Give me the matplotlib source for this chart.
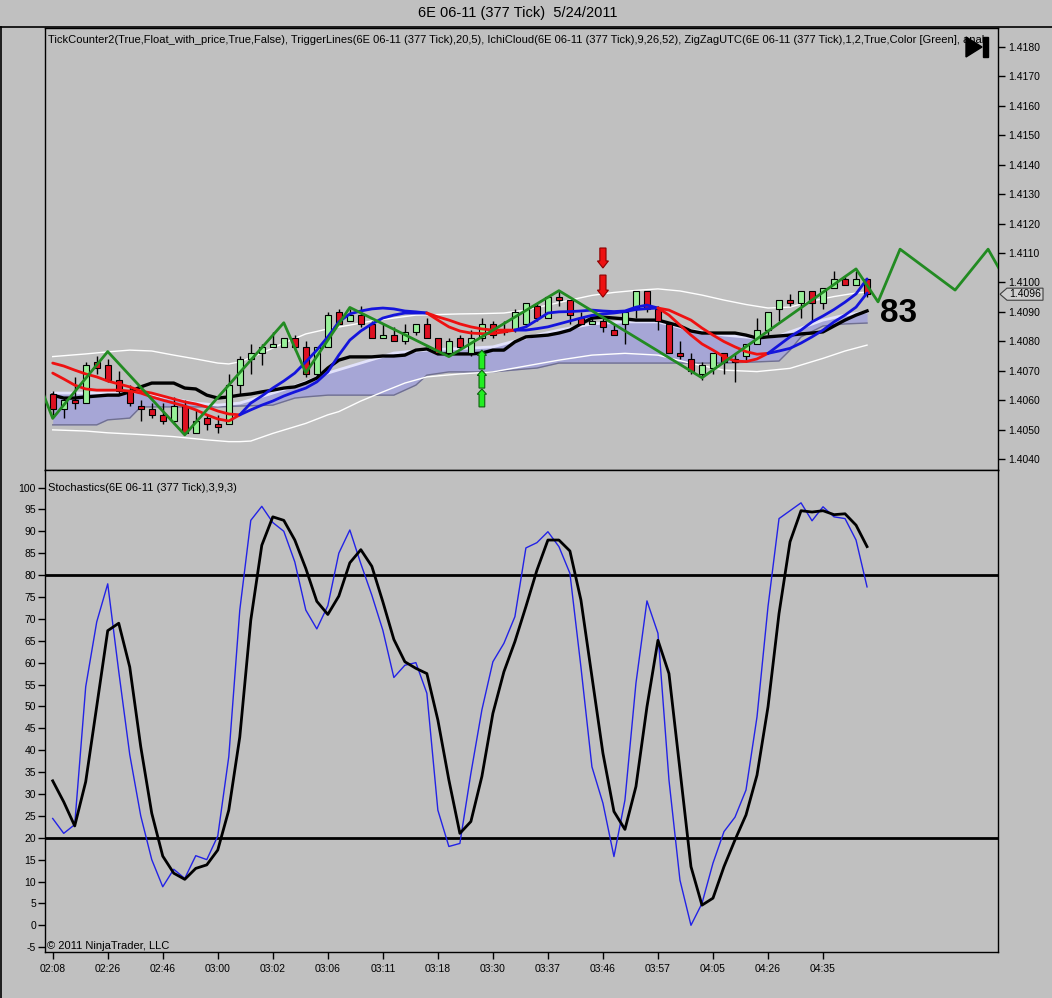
import matplotlib
matplotlib.use('Agg')
import matplotlib.pyplot as plt
from matplotlib.patches import Polygon, Rectangle
from matplotlib.lines import Line2D

plt.rcParams['font.family'] = ['Liberation Sans', 'DejaVu Sans']

# ---------------- data ----------------
title = '6E 06-11 (377 Tick)  5/24/2011'
header = ('TickCounter2(True,Float_with_price,True,False), TriggerLines(6E 06-11 (377 Tick),20,5), '
          'IchiCloud(6E 06-11 (377 Tick),9,26,52), ZigZagUTC(6E 06-11 (377 Tick),1,2,True,Color [Green], anal')
stoch_title = 'Stochastics(6E 06-11 (377 Tick),3,9,3)'
copyright_text = '\u00a9 2011 NinjaTrader, LLC'

time_labels = ['02:08', '02:26', '02:46', '03:00', '03:02', '03:06', '03:11', '03:18',
               '03:30', '03:37', '03:46', '03:57', '04:05', '04:26', '04:35']
time_tick_bars = [0, 5, 10, 15, 20, 25, 30, 35, 40, 45, 50, 55, 60, 65, 70]

price_ticks = [1.4040, 1.4050, 1.4060, 1.4070, 1.4080, 1.4090, 1.4100, 1.4110,
               1.4120, 1.4130, 1.4140, 1.4150, 1.4160, 1.4170, 1.4180]
stoch_ticks = [100, 95, 90, 85, 80, 75, 70, 65, 60, 55, 50, 45, 40, 35, 30, 25,
               20, 15, 10, 5, 0, -5]

opens = [1.4062, 1.4057, 1.4060, 1.4059, 1.4073, 1.4072, 1.4067, 1.4063, 1.4058, 1.4057,
         1.4055, 1.4053, 1.4058, 1.4049, 1.4054, 1.4052, 1.4052, 1.4065, 1.4074, 1.4076,
         1.4078, 1.4078, 1.4081, 1.4078, 1.4069, 1.4078, 1.4090, 1.4087, 1.4089, 1.4086,
         1.4081, 1.4082, 1.4080, 1.4083, 1.4086, 1.4081, 1.4076, 1.4081, 1.4076, 1.4081,
         1.4086, 1.4084, 1.4084, 1.4086, 1.4092, 1.4088, 1.4095, 1.4094, 1.4088, 1.4086,
         1.4087, 1.4084, 1.4086, 1.4091, 1.4097, 1.4091, 1.4086, 1.4076, 1.4074, 1.4069,
         1.4071, 1.4076, 1.4074, 1.4075, 1.4079, 1.4084, 1.4091, 1.4094, 1.4093, 1.4097,
         1.4093, 1.4098, 1.4101, 1.4099, 1.4101]
highs = [1.4063, 1.4061, 1.4068, 1.4073, 1.4075, 1.4074, 1.4070, 1.4065, 1.4060, 1.4059,
         1.4059, 1.4061, 1.4060, 1.4057, 1.4055, 1.4055, 1.4069, 1.4075, 1.4079, 1.4079,
         1.4083, 1.4081, 1.4082, 1.4080, 1.4078, 1.4090, 1.4091, 1.4091, 1.4092, 1.4087,
         1.4086, 1.4085, 1.4086, 1.4086, 1.4088, 1.4081, 1.4081, 1.4082, 1.4084, 1.4088,
         1.4087, 1.4087, 1.4091, 1.4093, 1.4093, 1.4095, 1.4097, 1.4094, 1.4090, 1.4088,
         1.4088, 1.4086, 1.4090, 1.4097, 1.4097, 1.4092, 1.4086, 1.4080, 1.4076, 1.4073,
         1.4076, 1.4076, 1.4076, 1.4079, 1.4088, 1.4090, 1.4094, 1.4096, 1.4097, 1.4097,
         1.4098, 1.4104, 1.4102, 1.4104, 1.4101]
lows = [1.4055, 1.4054, 1.4057, 1.4059, 1.4069, 1.4066, 1.4062, 1.4058, 1.4053, 1.4054,
        1.4052, 1.4052, 1.4049, 1.4049, 1.4050, 1.4049, 1.4052, 1.4062, 1.4069, 1.4072,
        1.4078, 1.4078, 1.4077, 1.4068, 1.4068, 1.4078, 1.4086, 1.4087, 1.4085, 1.4081,
        1.4081, 1.4080, 1.4079, 1.4082, 1.4081, 1.4076, 1.4075, 1.4077, 1.4075, 1.4080,
        1.4081, 1.4082, 1.4083, 1.4085, 1.4087, 1.4088, 1.4092, 1.4086, 1.4086, 1.4086,
        1.4083, 1.4082, 1.4079, 1.4088, 1.4090, 1.4084, 1.4076, 1.4074, 1.4069, 1.4067,
        1.4069, 1.4069, 1.4066, 1.4073, 1.4079, 1.4082, 1.4087, 1.4092, 1.4088, 1.4087,
        1.4091, 1.4098, 1.4099, 1.4099, 1.4095]
closes = [1.4057, 1.4060, 1.4059, 1.4072, 1.4071, 1.4067, 1.4063, 1.4059, 1.4057, 1.4055,
          1.4053, 1.4058, 1.4049, 1.4053, 1.4052, 1.4051, 1.4065, 1.4074, 1.4076, 1.4078,
          1.4079, 1.4081, 1.4078, 1.4069, 1.4078, 1.4089, 1.4086, 1.4089, 1.4086, 1.4081,
          1.4082, 1.4080, 1.4083, 1.4086, 1.4081, 1.4076, 1.4080, 1.4078, 1.4081, 1.4086,
          1.4082, 1.4083, 1.4090, 1.4093, 1.4088, 1.4095, 1.4094, 1.4089, 1.4086, 1.4087,
          1.4085, 1.4082, 1.4090, 1.4097, 1.4091, 1.4087, 1.4076, 1.4075, 1.4070, 1.4072,
          1.4076, 1.4073, 1.4073, 1.4079, 1.4084, 1.4090, 1.4094, 1.4093, 1.4097, 1.4093,
          1.4098, 1.4101, 1.4099, 1.4101, 1.4096]

# Kijun-like black line
base_line = [1.40617, 1.40607, 1.40607, 1.40611, 1.40614, 1.40617, 1.40617, 1.40628, 1.40645, 1.40658,
             1.40658, 1.40658, 1.40641, 1.40638, 1.40617, 1.40607, 1.40611, 1.40617, 1.40621, 1.40628,
             1.40634, 1.40641, 1.40645, 1.40658, 1.40675, 1.40709, 1.40736, 1.40747, 1.40747, 1.40747,
             1.40750, 1.40750, 1.40753, 1.40770, 1.40774, 1.40757, 1.40757, 1.40757, 1.40757, 1.40760,
             1.40770, 1.40770, 1.40798, 1.40815, 1.40818, 1.40821, 1.40828, 1.40838, 1.40859, 1.40879,
             1.40882, 1.40879, 1.40876, 1.40872, 1.40872, 1.40872, 1.40862, 1.40852, 1.40835, 1.40828,
             1.40828, 1.40828, 1.40828, 1.40821, 1.40811, 1.40815, 1.40818, 1.40821, 1.40825, 1.40828,
             1.40832, 1.40852, 1.40872, 1.40889, 1.40903]

# Trigger lines (two lines, coloured by regime)
trigger_a = [1.40726, 1.40716, 1.40702, 1.40689, 1.40679, 1.40665, 1.40655, 1.40645, 1.40631, 1.40624,
             1.40614, 1.40604, 1.40594, 1.40587, 1.40577, 1.40563, 1.40553, 1.40550,
             1.40590, 1.40614, 1.40641, 1.40665, 1.40692, 1.40730, 1.40770, 1.40815, 1.40866, 1.40893,
             1.40903, 1.40910, 1.40913, 1.40910, 1.40903, 1.40900, 1.40896,
             1.40883, 1.40872, 1.40859, 1.40849, 1.40842, 1.40838, 1.40838, 1.40838,
             1.40849, 1.40872, 1.40896, 1.40900, 1.40901, 1.40903, 1.40906, 1.40903, 1.40901, 1.40903,
             1.40916, 1.40923, 1.40913,
             1.40906, 1.40889, 1.40872, 1.40845, 1.40821, 1.40799, 1.40781, 1.40765, 1.40756, 1.40759,
             1.40787, 1.40815, 1.40838, 1.40866, 1.40886, 1.40908, 1.40933, 1.40961, 1.41012]
trigger_b = [1.40692, 1.40672, 1.40651, 1.40638, 1.40634, 1.40634, 1.40634, 1.40631, 1.40624, 1.40611,
             1.40600, 1.40590, 1.40580, 1.40567, 1.40550, 1.40536, 1.40529, 1.40550,
             1.40567, 1.40583, 1.40597, 1.40614, 1.40628, 1.40641, 1.40662, 1.40696, 1.40753, 1.40804,
             1.40835, 1.40859, 1.40879, 1.40889, 1.40896, 1.40896, 1.40896,
             1.40872, 1.40849, 1.40835, 1.40828, 1.40826, 1.40826, 1.40832, 1.40838,
             1.40838, 1.40843, 1.40849, 1.40859, 1.40869, 1.40879, 1.40888, 1.40893, 1.40896, 1.40901,
             1.40908, 1.40911, 1.40913,
             1.40889, 1.40855, 1.40821, 1.40791, 1.40770, 1.40747, 1.40733, 1.40731, 1.40740, 1.40759,
             1.40767, 1.40776, 1.40794, 1.40815, 1.40838, 1.40866, 1.40889, 1.40916, 1.40964]
trigger_breaks = [0, 17, 34, 42, 55, 65, 74]
trigger_colors = ['#ee1111', '#1414dc', '#ee1111', '#1414dc', '#ee1111', '#1414dc']

# Ichimoku cloud
cloud_bars = [0, 4, 5, 7, 8, 10, 13, 15, 17, 20, 22, 23, 25, 28, 31, 33, 34, 36, 38, 40,
              43, 44, 46, 49, 52, 55, 58, 61, 64, 66, 67, 68, 70, 72, 74]
cloud_top = [1.40624, 1.40624, 1.40624, 1.40624, 1.40628, 1.40611, 1.40590, 1.40583, 1.40590, 1.40624,
             1.40648, 1.40662, 1.40692, 1.40726, 1.40760, 1.40767, 1.40770, 1.40774, 1.40777, 1.40781,
             1.40811, 1.40821, 1.40838, 1.40859, 1.40866, 1.40866, 1.40838, 1.40821, 1.40811, 1.40818,
             1.40832, 1.40845, 1.40872, 1.40889, 1.40900]
cloud_bottom = [1.40516, 1.40516, 1.40533, 1.40539, 1.40577, 1.40577, 1.40577, 1.40577, 1.40580, 1.40583,
                1.40607, 1.40611, 1.40617, 1.40617, 1.40617, 1.40651, 1.40685, 1.40696, 1.40696, 1.40696,
                1.40706, 1.40709, 1.40726, 1.40726, 1.40726, 1.40726, 1.40726, 1.40726, 1.40730, 1.40733,
                1.40770, 1.40815, 1.40852, 1.40859, 1.40862]

# white envelope lines
env_up_bars = [0, 3, 5, 7, 9, 11, 13, 15, 16, 17, 19, 21, 23, 25, 27, 29, 31, 33, 35, 37, 39, 41,
               43, 45, 47, 49, 51, 53, 55, 57, 59, 61, 63, 65, 67, 69, 71, 73, 74]
env_up = [1.40748, 1.40757, 1.40764, 1.40770, 1.40767, 1.40753, 1.40740, 1.40726, 1.40723, 1.40730,
          1.40760, 1.40794, 1.40825, 1.40842, 1.40855, 1.40869, 1.40879, 1.40889, 1.40891, 1.40893,
          1.40894, 1.40896, 1.40906, 1.40923, 1.40940, 1.40956, 1.40966, 1.40973, 1.40978, 1.40971,
          1.40957, 1.40940, 1.40925, 1.40913, 1.40916, 1.40937, 1.40952, 1.40964, 1.40967]
env_lo_bars = [0, 3, 5, 8, 11, 14, 16, 17, 18, 20, 23, 25, 26, 28, 30, 32, 34, 37, 40, 43, 46,
               49, 52, 55, 58, 61, 64, 67, 70, 72, 74]
env_lo = [1.40499, 1.40495, 1.40489, 1.40483, 1.40476, 1.40465, 1.40459, 1.40459, 1.40461, 1.40487,
          1.40521, 1.40550, 1.40561, 1.40597, 1.40628, 1.40658, 1.40679, 1.40689, 1.40696, 1.40716,
          1.40736, 1.40753, 1.40759, 1.40753, 1.40725, 1.40702, 1.40697, 1.40708, 1.40742, 1.40767,
          1.40787]

# ZigZag
zz_bars = [-1, 0, 5, 12, 21, 23, 27, 36, 46, 59, 73, 75, 77, 82, 85, 87]
zz_prices = [1.40635, 1.40538, 1.40765, 1.40482, 1.40863, 1.40693, 1.40915, 1.40748, 1.40972,
             1.40676, 1.41046, 1.40934, 1.41113, 1.40974, 1.41113, 1.40981]

# signal arrows
sell_bar = 50
sell_tails = [1.41117, 1.41025]
sell_tips = [1.41049, 1.40950]
buy_bar = 39
buy_tails = [1.40706, 1.40641, 1.40577]
buy_tips = [1.40770, 1.40702, 1.40638]

tick_count = '83'
tick_count_bar = 76.85
tick_count_price = 1.40896

# Stochastics
stoch_k = [24.4, 21, 23, 54.5, 69.3, 78, 58, 39, 25, 15, 8.8, 12.8, 10.7, 15.9, 15, 20.4, 38.5, 72,
           92.5, 95.7, 92, 90, 83, 72, 67.7, 73, 85, 90.3, 82.6, 75.4, 67.4, 56.6, 59.4, 60, 53,
           26.3, 18, 18.7, 34.7, 49.2, 60.2, 64.4, 70.5, 86.2, 87.4, 89.9, 86.5, 80.4, 59, 36.2,
           27.9, 15.7, 28.6, 55.3, 74.1, 66.7, 33.2, 10.3, 0, 5, 14.2, 21.4, 24.7, 30.9, 47.6, 72.8,
           92.9, 94.7, 96.5, 92.4, 95.6, 93.3, 92.9, 88, 77.3]
stoch_d = [33, 28.2, 22.7, 32.8, 50, 67.3, 69, 59, 40.8, 25.6, 15.8, 11.9, 10.5, 13, 13.8, 17.2,
           26.3, 43, 69.7, 86.8, 93.3, 92.5, 88, 81.5, 74, 71, 75.2, 82.8, 85.8, 82, 73.9, 65.3,
           60.2, 58.7, 57.5, 46.9, 33.2, 21, 23.7, 34, 48.4, 57.9, 64.8, 72.8, 81.1, 88, 88, 85.5,
           74.3, 56.8, 39.3, 26, 21.9, 31.7, 49.9, 65.1, 57.5, 35.5, 13.4, 4.6, 6.2, 13.4, 19.5,
           25.2, 34.3, 49.9, 71.2, 87.6, 94.7, 94.4, 94.7, 93.8, 94, 91.4, 86.5]
stoch_levels = [80, 20]

# ---------------- figure ----------------
W, H = 1052, 998
BG = '#c0c0c0'
fig = plt.figure(figsize=(W / 100, H / 100), dpi=100, facecolor=BG)


def fx(px):
    return px / W


def fy(py):
    return 1 - py / H


ax1 = fig.add_axes([fx(45), fy(470), fx(998) - fx(45), fy(28) - fy(470)], facecolor=BG)
ax2 = fig.add_axes([fx(45), fy(952), fx(998) - fx(45), fy(470) - fy(952)], facecolor=BG)

XL = (-0.7, 85.9)
for ax in (ax1, ax2):
    ax.set_xlim(*XL)
    for s in ax.spines.values():
        s.set_color('black')
        s.set_linewidth(1)

ax1.set_ylim(1.403626, 1.418646)
ax2.set_ylim(-6.1, 104)

# --- price panel ---
ax1.fill_between(cloud_bars, cloud_top, cloud_bottom, color='#a6a6d6', lw=0, zorder=1)
ax1.plot(cloud_bars, cloud_bottom, color='#707090', lw=1.0, zorder=1.5)
ax1.plot(cloud_bars, cloud_top, color='#e2e2fb', lw=2.0, zorder=1.6)
ax1.plot(env_up_bars, env_up, color='white', lw=1.0, zorder=1.7)
ax1.plot(env_lo_bars, env_lo, color='white', lw=1.0, zorder=1.7)
bars = list(range(len(opens)))
ax1.plot(bars, base_line, color='black', lw=2.4, zorder=2)

ax1.vlines(bars, lows, highs, color='black', lw=1.0, zorder=3)
for i in bars:
    o, c = opens[i], closes[i]
    up = c >= o
    lo = min(o, c)
    hgt = max(abs(c - o), 0.000015)
    ax1.add_patch(Rectangle((i - 0.28, lo), 0.56, hgt,
                            facecolor='#98f098' if up else '#dd1122',
                            edgecolor='black', lw=0.8, zorder=3.5))

for k in range(len(trigger_breaks) - 1):
    a, b = trigger_breaks[k], trigger_breaks[k + 1]
    xs = bars[a:b + 1]
    ax1.plot(xs, trigger_a[a:b + 1], color=trigger_colors[k], lw=2.0, zorder=4,
             solid_capstyle='round')
    ax1.plot(xs, trigger_b[a:b + 1], color=trigger_colors[k], lw=2.0, zorder=4,
             solid_capstyle='round')

ax1.plot(zz_bars, zz_prices, color='#228b22', lw=2.0, zorder=5)


def draw_arrow(ax, x, tail, tip, fc, ec, hl, w=0.27, hw=0.5):
    d = 1 if tail > tip else -1
    base = tip + d * hl
    pts = [(x - w, tail), (x + w, tail), (x + w, base), (x + hw, base), (x, tip),
           (x - hw, base), (x - w, base)]
    ax.add_patch(Polygon(pts, closed=True, fc=fc, ec=ec, lw=0.8, zorder=6))


for t, p in zip(sell_tails, sell_tips):
    draw_arrow(ax1, sell_bar, t, p, '#ee1111', '#8b0000', 0.00024, w=0.28, hw=0.5)
for t, p in zip(buy_tails, buy_tips):
    draw_arrow(ax1, buy_bar, t, p, '#22ee22', '#106010', 0.00018, w=0.26, hw=0.42)

ax1.text(tick_count_bar, tick_count_price, tick_count, ha='center', va='center',
         fontsize=24, fontweight='bold', color='black', zorder=7)

ax1.set_xticks([])
ax1.yaxis.tick_right()
ax1.set_yticks(price_ticks)
ax1.set_yticklabels(['%.4f' % v for v in price_ticks])
ax1.tick_params(axis='y', direction='out', length=5, width=1, labelsize=7.5, pad=2,
                colors='black')

ax1.text((48 - 45) / 953, (470 - 40) / 442, header, transform=ax1.transAxes,
         fontsize=8.0, ha='left', va='center', clip_on=True, zorder=8)

# last price marker
last = closes[-1]
ytr = ax1.get_yaxis_transform()
dh = 0.000205
pts = [((1000 - 45) / 953, last), ((1007 - 45) / 953, last + dh), ((1043 - 45) / 953, last + dh),
       ((1043 - 45) / 953, last - dh), ((1007 - 45) / 953, last - dh)]
ax1.add_patch(Polygon(pts, closed=True, transform=ytr, fc='#cfcfcf', ec='#404040', lw=0.8,
                      clip_on=False, zorder=9))
ax1.text((1025 - 45) / 953, last, '%.4f' % last, transform=ytr, fontsize=7.5,
         ha='center', va='center', clip_on=False, zorder=10)

# --- stochastics panel ---
for lv in stoch_levels:
    ax2.axhline(lv, color='black', lw=2.0, zorder=1)
ax2.plot(bars, stoch_k, color='#2222e6', lw=1.0, zorder=2)
ax2.plot(bars, stoch_d, color='black', lw=2.0, zorder=3)
ax2.set_yticks(stoch_ticks)
ax2.set_yticklabels([str(v) for v in stoch_ticks])
ax2.set_xticks(time_tick_bars)
ax2.set_xticklabels(time_labels)
ax2.tick_params(axis='both', direction='out', length=5, width=1, labelsize=7.5, pad=1.5,
                colors='black')
ax2.tick_params(axis='x', pad=4)
ax2.text((48 - 45) / 953, (952 - 488) / 482, stoch_title, transform=ax2.transAxes,
         fontsize=8.0, ha='left', va='center', zorder=8)
ax2.text((47 - 45) / 953, (952 - 946) / 482, copyright_text, transform=ax2.transAxes,
         fontsize=8.0, ha='left', va='center', zorder=8)

# --- title and frame ---
fig.text(fx(518), fy(13), title, ha='center', va='center', fontsize=10.5)
for (x0, y0, x1, y1) in [(0, 27, W, 27), (0.5, 27, 0.5, 998)]:
    fig.add_artist(Line2D([fx(x0), fx(x1)], [fy(y0), fy(y1)], transform=fig.transFigure,
                          color='black', lw=1.2))

# play-to-end icon
fig.add_artist(Polygon([(fx(966), fy(37)), (fx(966), fy(57)), (fx(982), fy(47))], closed=True,
                       transform=fig.transFigure, fc='black', ec='black'))
fig.add_artist(Rectangle((fx(983), fy(57)), fx(988) - fx(983), fy(37) - fy(57),
                         transform=fig.transFigure, fc='black', ec='black'))

fig.savefig('out.png', dpi=100, facecolor=BG)
